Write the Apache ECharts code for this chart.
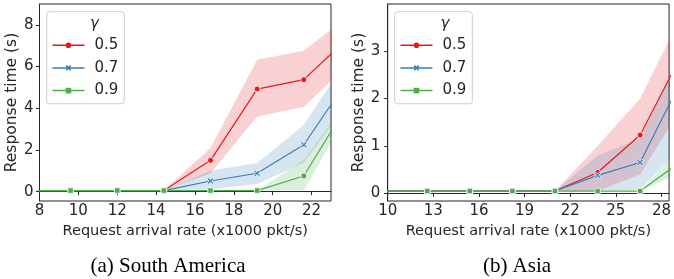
<!DOCTYPE html>
<html>
<head>
<meta charset="utf-8">
<script src="https://cdn.jsdelivr.net/npm/echarts@6/dist/echarts.min.js"></script>
<style>
  html, body { margin: 0; padding: 0; background: #fff; }
  #chart { width: 674px; height: 279px; }
</style>
</head>
<body>
<div id="chart"></div>
<script>
// South America
const saX = [7.2, 9.6, 12, 14.4, 16.8, 19.2, 21.6, 24];
const sa05 = [0.05, 0.05, 0.05, 0.05, 1.5, 4.92, 5.37, 7.48];
const sa05lo = [0.05, 0.05, 0.05, 0.05, 0.88, 3.6, 4.06, 6.2];
const sa05hi = [0.05, 0.05, 0.05, 0.05, 2.09, 6.33, 6.76, 8.5];
const sa07 = [0.05, 0.05, 0.05, 0.05, 0.51, 0.88, 2.25, 5.54];
const sa07lo = [0.05, 0.05, 0.05, 0.05, 0.11, 0.37, 1.39, 4.4];
const sa07hi = [0.05, 0.05, 0.05, 0.05, 1.0, 1.37, 3.2, 6.63];
const sa09 = [0.05, 0.05, 0.05, 0.05, 0.05, 0.05, 0.75, 4.4];
const sa09lo = [0.05, 0.05, 0.05, 0.05, 0.05, 0.05, 0.05, 3.98];
const sa09hi = [0.05, 0.05, 0.05, 0.05, 0.05, 0.05, 1.52, 4.52];
const saXTicks = [8, 10, 12, 14, 16, 18, 20, 22];
const saYTicks = [0, 2, 4, 6, 8];

// Asia
const asX = [9.8, 12.6, 15.4, 18.2, 21.0, 23.8, 26.6, 29.4];
const as05 = [0.05, 0.05, 0.05, 0.05, 0.05, 0.44, 1.23, 2.97];
const as05lo = [0.05, 0.05, 0.05, 0.05, 0.05, 0.05, 0.4, 1.87];
const as05hi = [0.05, 0.05, 0.05, 0.05, 0.05, 1.0, 2.0, 3.8];
const as07 = [0.05, 0.05, 0.05, 0.05, 0.05, 0.38, 0.65, 2.44];
const as07lo = [0.05, 0.05, 0.05, 0.05, 0.05, 0.05, 0.08, 0.99];
const as07hi = [0.05, 0.05, 0.05, 0.05, 0.05, 0.8, 1.15, 3.08];
const as09 = [0.05, 0.05, 0.05, 0.05, 0.05, 0.05, 0.05, 0.7];
const as09lo = [0.05, 0.05, 0.05, 0.05, 0.05, 0.05, 0.05, 0.46];
const as09hi = [0.05, 0.05, 0.05, 0.05, 0.05, 0.05, 0.05, 1.0];
const asXTicks = [10, 13, 16, 19, 22, 25, 28];
const asYTicks = [0, 1, 2, 3];

const gammas = ['0.5', '0.7', '0.9'];
const colors = ['#e41a1c', '#377eb8', '#4daf4a'];
const xPath = 'path://M0,2L2,0L5,3L8,0L10,2L7,5L10,8L8,10L5,7L2,10L0,8L3,5Z';
const symbols = ['circle', xPath, 'rect'];
const symbolSizes = [6, 6.5, 5.5];

const ink = '#262626';
const sans = 'DejaVu Sans';

function band(g, xs, lo, hi, color) {
  return {
    type: 'custom', xAxisIndex: g, yAxisIndex: g, clip: true, z: 1, silent: true,
    data: xs.map((x, i) => [x, lo[i], hi[i]]),
    encode: { x: 0, y: [1, 2] },
    renderItem: function (params, api) {
      if (params.dataIndex !== 0) return null;
      const top = xs.map((x, i) => api.coord([x, hi[i]]));
      const bot = xs.map((x, i) => api.coord([x, lo[i]])).reverse();
      return { type: 'polygon', shape: { points: top.concat(bot) }, style: { fill: color, opacity: 0.2 } };
    }
  };
}

function line(g, k, xs, ys) {
  return {
    type: 'line', name: gammas[k], xAxisIndex: g, yAxisIndex: g, clip: true, z: 3,
    data: xs.map((x, i) => [x, ys[i]]),
    symbol: symbols[k], symbolSize: symbolSizes[k],
    itemStyle: { color: colors[k], borderColor: '#fff', borderWidth: 0.8 },
    lineStyle: { color: colors[k], width: 1.2 }
  };
}

function xAxis(g, min, max, ticks) {
  return {
    type: 'value', gridIndex: g, min: min, max: max,
    name: 'Request arrival rate (x1000 pkt/s)', nameLocation: 'middle', nameGap: 22,
    nameTextStyle: { fontFamily: sans, fontSize: 14.5, color: ink },
    axisLine: { show: true, lineStyle: { color: ink, width: 1 } },
    axisTick: { show: true, inside: false, length: 3.5, customValues: ticks, lineStyle: { color: ink } },
    axisLabel: { customValues: ticks, margin: 3, fontFamily: sans, fontSize: 15, color: ink },
    splitLine: { show: false }
  };
}

function yAxis(g, min, max, ticks, margin) {
  return {
    type: 'value', gridIndex: g, min: min, max: max,
    name: 'Response time (s)', nameLocation: 'middle', nameGap: 20,
    nameTextStyle: { fontFamily: sans, fontSize: 15.5, color: ink },
    axisLine: { show: true, lineStyle: { color: ink, width: 1 } },
    axisTick: { show: true, inside: false, length: 3.5, customValues: ticks, lineStyle: { color: ink } },
    axisLabel: { customValues: ticks, margin: margin, fontFamily: sans, fontSize: 15, color: ink },
    splitLine: { show: false }
  };
}

function legend(left) {
  return {
    data: gammas, orient: 'vertical', left: left, top: 11.7, selectedMode: false,
    padding: [26, 6, 5.7, 5], itemWidth: 32, itemHeight: 7, itemGap: 7.7,
    backgroundColor: 'rgba(255,255,255,0.8)', borderColor: '#cccccc', borderWidth: 1, borderRadius: 3,
    itemStyle: { borderWidth: 0 },
    lineStyle: { width: 1.5 },
    textStyle: { fontFamily: sans, fontSize: 15, color: ink, lineHeight: 14, padding: [0, 0, 0, 5] }
  };
}

const chart = echarts.init(document.getElementById('chart'), null, { renderer: 'canvas' });
chart.setOption({
  animation: false,
  grid: [
    { left: 39.5, top: 4, width: 291.5, height: 197, show: true, borderColor: ink, borderWidth: 1, backgroundColor: 'transparent' },
    { left: 387.7, top: 4, width: 285.3, height: 197, show: true, borderColor: ink, borderWidth: 1, backgroundColor: 'transparent' }
  ],
  xAxis: [xAxis(0, 8, 23, saXTicks), xAxis(1, 10, 28.5, asXTicks)],
  yAxis: [yAxis(0, -0.45, 9.0, saYTicks, 6), yAxis(1, -0.16, 3.99, asYTicks, 7.5)],
  legend: [legend(46.7), legend(394.7)],
  series: [
    band(0, saX, sa05lo, sa05hi, colors[0]),
    band(0, saX, sa07lo, sa07hi, colors[1]),
    band(0, saX, sa09lo, sa09hi, colors[2]),
    line(0, 0, saX, sa05), line(0, 1, saX, sa07), line(0, 2, saX, sa09),
    band(1, asX, as05lo, as05hi, colors[0]),
    band(1, asX, as07lo, as07hi, colors[1]),
    band(1, asX, as09lo, as09hi, colors[2]),
    line(1, 0, asX, as05), line(1, 1, asX, as07), line(1, 2, asX, as09)
  ],
  graphic: [
    { type: 'text', x: 94.5, y: 24, z: 100, style: { text: 'γ', font: 'italic 15px "DejaVu Sans"', fill: ink, align: 'center', verticalAlign: 'middle' } },
    { type: 'text', x: 445, y: 24, z: 100, style: { text: 'γ', font: 'italic 15px "DejaVu Sans"', fill: ink, align: 'center', verticalAlign: 'middle' } },
    { type: 'text', x: 168, y: 266.7, style: { text: '(a) South America', font: '21px "Liberation Serif"', fill: '#000', align: 'center', verticalAlign: 'middle' } },
    { type: 'text', x: 517, y: 266.7, style: { text: '(b) Asia', font: '21px "Liberation Serif"', fill: '#000', align: 'center', verticalAlign: 'middle' } }
  ]
});
</script>
</body>
</html>
